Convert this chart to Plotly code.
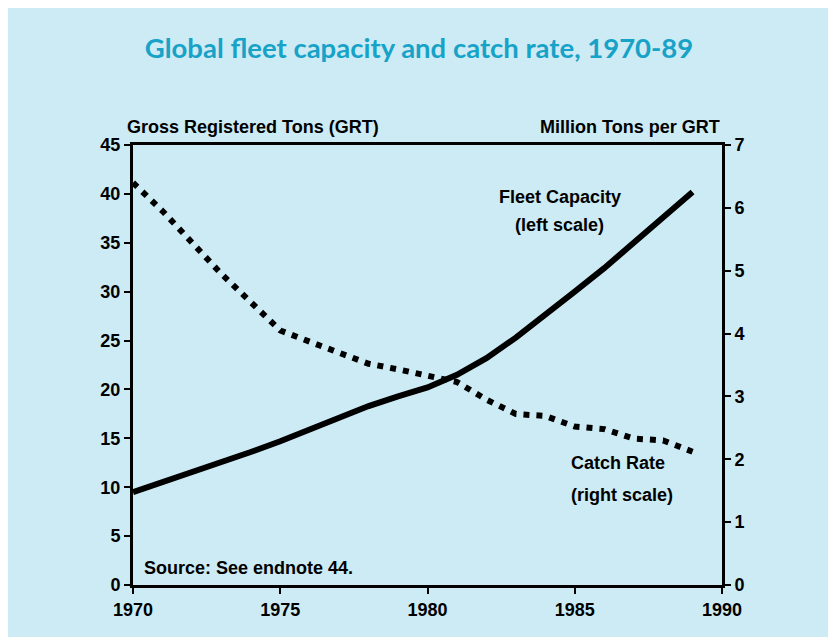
import plotly.graph_objects as go

years = list(range(1970, 1990))
fleet_capacity_grt = [9.5, 10.5, 11.6, 12.6, 13.6, 14.7, 15.9, 17.1, 18.3, 19.3,
                      20.2, 21.5, 23.2, 25.3, 27.6, 30.0, 32.4, 35.0, 37.6, 40.2]
catch_rate = [6.4, 5.95, 5.45, 4.95, 4.5, 4.05, 3.87, 3.7, 3.52, 3.43,
              3.32, 3.23, 2.95, 2.72, 2.69, 2.52, 2.48, 2.33, 2.3, 2.12]
left_ticks = [0, 5, 10, 15, 20, 25, 30, 35, 40, 45]
right_ticks = [0, 1, 2, 3, 4, 5, 6, 7]
x_ticks = [1970, 1975, 1980, 1985, 1990]

TICKFONT = dict(family="Liberation Sans Narrow, Arial Narrow, sans-serif", size=18, color="black", weight=700)
LABFONT = dict(family="Liberation Sans Narrow, Arial Narrow, sans-serif", size=18, color="black", weight=700)

fig = go.Figure()
fig.add_trace(go.Scatter(x=years, y=fleet_capacity_grt, mode="lines",
                         line=dict(color="black", width=6), yaxis="y", showlegend=False))
fig.add_trace(go.Scatter(x=years, y=catch_rate, mode="lines",
                         line=dict(color="black", width=6, dash="6px,7px"), yaxis="y2", showlegend=False))

# page has an 8px body margin; figure sized so it fits the 836x638 window
OFF = 8
W, H = 836 - OFF, 638 - OFF
L, R, T, B = 133 - OFF, 114, 145 - OFF, 53
pw, ph = W - L - R, H - T - B

def px_x(p):
    return (p - OFF - L) / pw

def px_y(p):
    return (H - B - (p - OFF)) / ph

fig.add_shape(type="rect", xref="paper", yref="paper",
              x0=px_x(5), x1=px_x(830), y0=px_y(637), y1=px_y(3),
              fillcolor="#cdebf4", line=dict(width=0), layer="below")

axis_common = dict(showline=True, linecolor="black", linewidth=3, mirror=True,
                   ticks="outside", ticklen=6, tickwidth=2, tickcolor="black",
                   showgrid=False, zeroline=False, tickfont=TICKFONT)

fig.update_layout(
    width=W, height=H,
    margin=dict(l=L, r=R, t=T, b=B),
    paper_bgcolor="white",
    plot_bgcolor="rgba(0,0,0,0)",
    title=dict(text="Global fleet capacity and catch rate, 1970-89",
               x=px_x(419), xref="paper", xanchor="center", y=1 - (48 - OFF) / H, yref="container", yanchor="middle",
               font=dict(family="Lato, sans-serif", size=27.5, color="#17a2c8", weight=700)),
    xaxis=dict(range=[1970, 1990], tickvals=x_ticks, **axis_common),
    yaxis=dict(range=[0, 45], tickvals=left_ticks, **axis_common),
    yaxis2=dict(range=[0, 7], tickvals=right_ticks, overlaying="y", side="right",
                showline=True, linecolor="black", linewidth=3,
                ticks="outside", ticklen=6, tickwidth=2, tickcolor="black",
                showgrid=False, zeroline=False, tickfont=TICKFONT),
)

ann = [
    ("Gross Registered Tons (GRT)", px_x(125), px_y(127), "left"),
    ("Million Tons per GRT", px_x(722), px_y(127), "right"),
    ("Fleet Capacity", px_x(560), px_y(197), "center"),
    ("(left scale)", px_x(559), px_y(225), "center"),
    ("Catch Rate", px_x(618), px_y(463), "center"),
    ("(right scale)", px_x(622), px_y(495), "center"),
    ("Source: See endnote 44.", px_x(142), px_y(568), "left"),
]
for text, x, y, anchor in ann:
    fig.add_annotation(text=text, x=x, y=y, xref="paper", yref="paper",
                       xanchor=anchor, yanchor="middle", showarrow=False, font=LABFONT)

fig.write_html("out.html")
